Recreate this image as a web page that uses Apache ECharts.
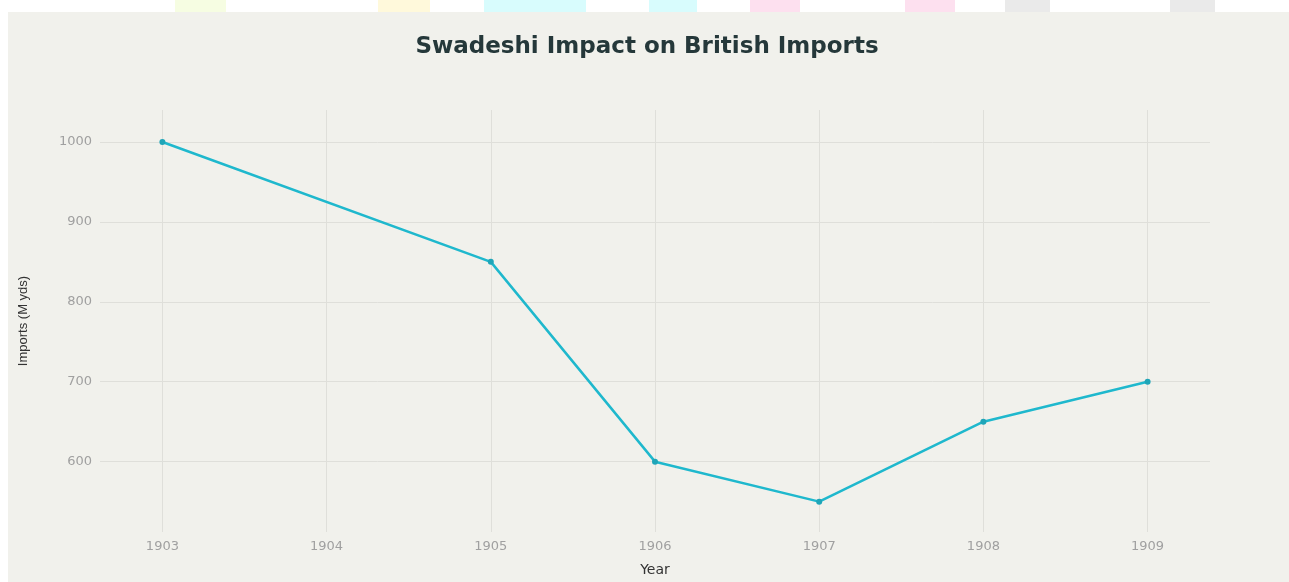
<!DOCTYPE html>
<html>
<head>
<meta charset="utf-8">
<title>Swadeshi Impact on British Imports</title>
<script src="https://cdn.jsdelivr.net/npm/echarts@6/dist/echarts.min.js"></script>
<style>
  html, body { margin: 0; padding: 0; background: #fff; }
  #main { width: 1289px; height: 582px; }
</style>
</head>
<body>
<div id="main"></div>
<script>
// data
const years = [1903, 1905, 1906, 1907, 1908, 1909];
const imports = [1000, 850, 600, 550, 650, 700];
const xTicks = [1903, 1904, 1905, 1906, 1907, 1908, 1909];
const yTicks = [600, 700, 800, 900, 1000];

// faint coloured blocks in the strip above the panel
const stripBlocks = [
  [175, 51, '#f6fde2'], [378, 52, '#fff9db'],
  [484, 102, '#d8fcfd'], [649, 48, '#d8fcfd'],
  [750, 50, '#fde0ef'], [905, 50, '#fde0ef'],
  [1005, 45, '#eaeaea'], [1170, 45, '#eaeaea']
];

const chart = echarts.init(document.getElementById('main'), null, { renderer: 'canvas' });

chart.setOption({
  animation: false,
  backgroundColor: '#fff',
  graphic: [
    {
      type: 'rect',
      z: -10,
      shape: { x: 8, y: 12, width: 1281, height: 570 },
      style: { fill: '#f1f1ec' }
    }
  ].concat(stripBlocks.map(b => ({
    type: 'rect',
    z: -10,
    shape: { x: b[0], y: 0, width: b[1], height: 12 },
    style: { fill: b[2] }
  }))),
  title: {
    text: 'Swadeshi Impact on British Imports',
    left: 642,
    top: 31,
    textAlign: 'center',
    textStyle: {
      fontFamily: 'DejaVu Sans',
      fontSize: 23,
      fontWeight: 'bold',
      color: '#25383a'
    }
  },
  grid: {
    left: 100,
    right: 79,
    top: 110,
    bottom: 42
  },
  xAxis: {
    type: 'value',
    min: 1902.62,
    max: 1909.38,
    name: 'Year',
    nameLocation: 'middle',
    nameGap: 31,
    nameTextStyle: { fontFamily: 'DejaVu Sans', fontSize: 14, color: '#333' },
    axisLine: { show: false },
    axisTick: { show: false, customValues: xTicks },
    axisLabel: {
      customValues: xTicks,
      margin: 8,
      fontFamily: 'DejaVu Sans',
      fontSize: 13,
      color: '#a0a0a0',
      formatter: v => String(v)
    },
    splitLine: { show: true, lineStyle: { color: '#dfdfda', width: 1 } }
  },
  yAxis: {
    type: 'value',
    min: 512,
    max: 1040,
    name: 'Imports (M yds)',
    nameLocation: 'middle',
    nameGap: 70,
    nameTextStyle: { fontFamily: 'Liberation Sans', fontSize: 13, color: '#333' },
    axisLine: { show: false },
    axisTick: { show: false, customValues: yTicks },
    axisLabel: {
      customValues: yTicks,
      margin: 8,
      fontFamily: 'DejaVu Sans',
      fontSize: 13,
      color: '#a0a0a0',
      formatter: v => String(v)
    },
    splitLine: { show: true, lineStyle: { color: '#dfdfda', width: 1 } }
  },
  series: [
    {
      name: 'Imports',
      type: 'line',
      data: years.map((y, i) => [y, imports[i]]),
      symbol: 'circle',
      symbolSize: 6,
      lineStyle: { color: '#1fb8cd', width: 2.5 },
      itemStyle: { color: '#1fa5b8' }
    }
  ]
});
</script>
</body>
</html>
